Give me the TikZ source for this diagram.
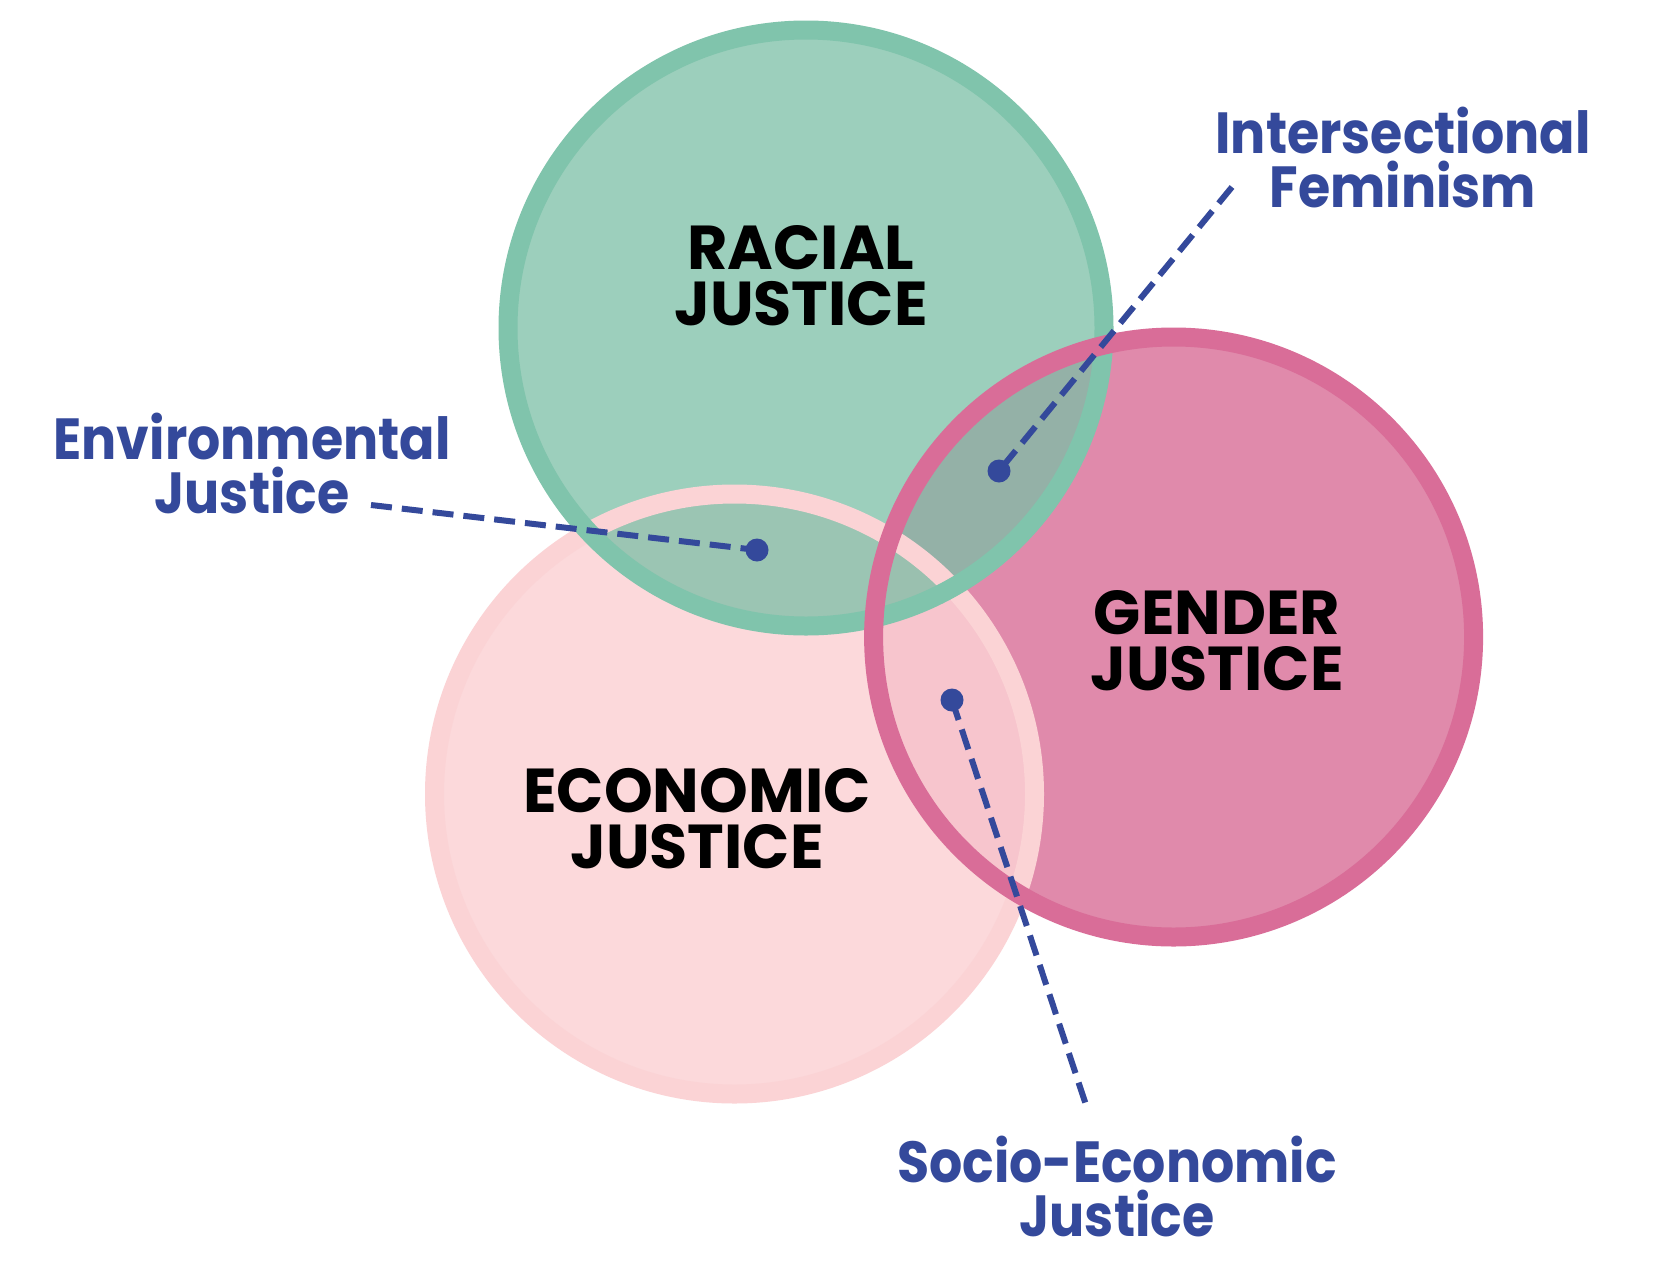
\documentclass[tikz,border=0pt]{standalone}
\usepackage{fontspec}
\setmainfont{Poppins}
\newfontfamily\tagfont{Poppins}[FakeStretch=0.9]
\usetikzlibrary{positioning}

\definecolor{racialfill}{HTML}{7BBFA6}
\definecolor{racialring}{HTML}{80C4AC}
\definecolor{genderfill}{HTML}{E08AAB}
\definecolor{genderring}{HTML}{D96D98}
\definecolor{econfill}{HTML}{FCD2D4}
\definecolor{econring}{HTML}{FBD3D5}
\definecolor{tagblue}{HTML}{34499B}

\begin{document}
\begin{tikzpicture}[
  x=1pt, y=-1pt,
  ring/.style={line width=19pt},
  title/.style={font=\fontsize{62}{56}\selectfont\bfseries, text=black, align=center},
  tag/.style={font=\tagfont\fontsize{58}{54}\selectfont\bfseries, text=tagblue, align=center},
  leader/.style={tagblue, line width=6pt, dash pattern=on 21pt off 10pt},
  dot/.style={circle, fill=tagblue, inner sep=0pt, minimum size=23pt}
]
  \useasboundingbox[fill=white] (0,0) rectangle (1663,1267);

  % circle fills
  \fill[genderfill] (1173.6,637) circle (300);
  \fill[econfill, fill opacity=0.83] (734.5,794) circle (300);
  \fill[racialfill, fill opacity=0.75] (806,328) circle (298);

  % circle rings
  \draw[ring, econring] (734.5,794) circle (300);
  \draw[ring, racialring] (806,328) circle (298);
  \draw[ring, genderring] (1173.6,637) circle (300);

  % titles
  \node[title] (racial) at (801,276) {RACIAL\\JUSTICE};
  \node[title] (gender) at (1217,641) {GENDER\\JUSTICE};
  \node[title] (economic) at (697,819) {ECONOMIC\\JUSTICE};

  % overlap labels
  \node[tag] (inter) at (1403,157) {Intersectional\\Feminism};
  \node[tag] (enviro) at (252,463) {Environmental\\Justice};
  \node[tag] (socio) at (1117,1186) {Socio-Economic\\Justice};

  % dots
  \node[dot] (interdot) at (999,471) {};
  \node[dot] (envirodot) at (757,550) {};
  \node[dot] (sociodot) at (952,700) {};

  % leaders
  \coordinate (interend) at (1232,187);
  \coordinate (enviroend) at (371,505);
  \coordinate (socioend) at (1087,1108);
  \draw[leader] (interend) -- (interdot.center);
  \draw[leader] (enviroend) -- (envirodot.center);
  \draw[leader] (sociodot.center) -- (socioend);
\end{tikzpicture}
\end{document}
